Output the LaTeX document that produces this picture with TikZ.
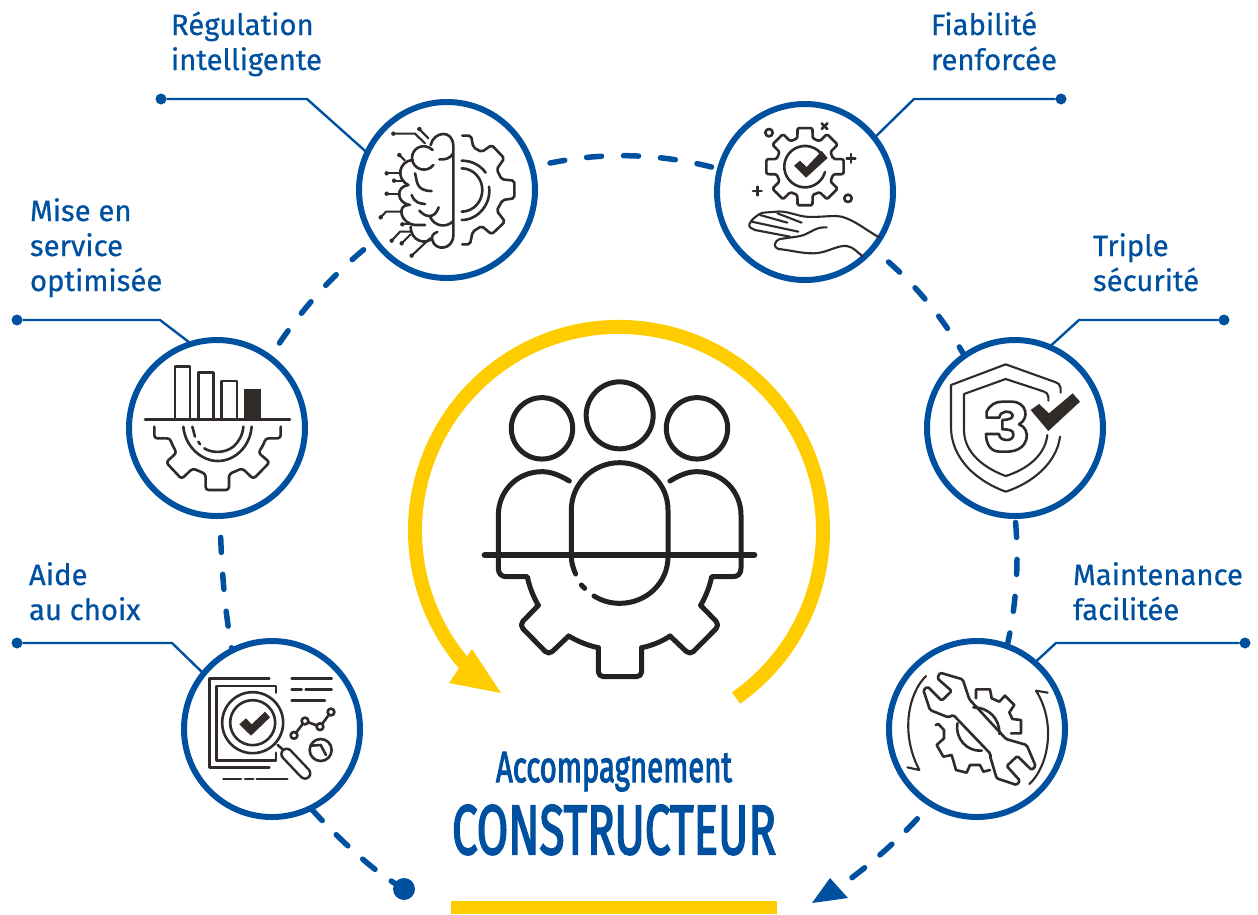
\documentclass[tikz,border=0pt]{standalone}
\usepackage{fontspec}
\setmainfont{Fira Sans}
\newfontfamily\labelfont[FakeBold=0.6]{Fira Sans}
\newfontfamily\titlefont[FakeBold=3]{Fira Sans}
\definecolor{brandblue}{HTML}{0050A0}
\definecolor{brandyellow}{HTML}{FFCC00}
\definecolor{icondark}{HTML}{302A28}
\definecolor{hubdark}{HTML}{222222}
\tikzset{
  ring/.style={circle,draw=brandblue,fill=white,line width=6pt,minimum size=176pt,inner sep=0pt,outer sep=0pt},
  pin/.style={circle,fill=brandblue,minimum size=11pt,inner sep=0pt,outer sep=0pt},
  leader/.style={draw=brandblue,line width=2.4pt,line join=miter},
  orbit/.style={draw=brandblue,line width=5.5pt,line cap=round,dash pattern=on 15pt off 22pt},
  label/.style={text=brandblue,font=\labelfont\fontsize{29.3}{35}\selectfont,align=left,inner sep=0pt,outer sep=0pt},
  icon/.style={draw=icondark,line width=2.6pt,line cap=round,line join=round},
  iconthin/.style={draw=icondark,line width=2.1pt,line cap=round,line join=round},
  hub/.style={draw=hubdark,line width=5pt,line cap=round,line join=round},
  title/.style={text=brandblue,inner sep=0pt,outer sep=0pt,font=\titlefont},
  zoomed/.style={x=0.33333pt,y=-0.33333pt},
}
\begin{document}
\begin{tikzpicture}[x=1pt,y=-1pt]
\useasboundingbox (0,0) rectangle (1258,914);
% rings
\node[ring] (brain) at (447,190) {};
\node[ring] (fiab) at (805,192) {};
\node[ring] (chart) at (217,428) {};
\node[ring] (shield) at (1015,428) {};
\node[ring] (aide) at (272,729) {};
\node[ring] (maint) at (977,729) {};
% leader pins
\node[pin] (pinreg) at (161,99) {};
\node[pin] (pinfia) at (1061,99) {};
\node[pin] (pinmis) at (17,320) {};
\node[pin] (pintri) at (1224,320) {};
\node[pin] (pinaid) at (17,643) {};
\node[pin] (pinmai) at (1245,643) {};
\coordinate (kreg) at (307,99);
\coordinate (kfia) at (914,99);
\coordinate (kmis) at (160,320);
\coordinate (ktri) at (1079,320);
\coordinate (kaid) at (172,643);
\coordinate (kmai) at (1056,643);
\draw[leader] (pinreg) -- (kreg) -- (brain.155);
\draw[leader] (pinfia) -- (kfia) -- (fiab.38);
\draw[leader] (pinmis) -- (kmis) -- (chart.107);
\draw[leader] (pintri) -- (ktri) -- (shield.67);
\draw[leader] (pinaid) -- (kaid) -- (aide.141);
\draw[leader] (pinmai) -- (kmai) -- (maint.49);
% orbit
\node[pin,minimum size=22pt] (startdot) at (404,889) {};
\coordinate (arrowbase) at (838,888);
\draw[orbit,dash phase=18.5pt] (brain.15) .. controls (595,151) and (657,152) .. (fiab.165);
\draw[orbit,dash phase=16pt] (fiab.-40) .. controls (910,278) and (941,314) .. (shield.125);
\draw[orbit,dash phase=19.5pt] (chart.53) .. controls (298,312.6) and (333,273.6) .. (brain.215);
\draw[orbit,dash phase=15.5pt] (chart.-88) .. controls (221,561) and (224,606) .. (aide.117);
\draw[orbit,dash phase=30.5pt] (shield.-90) .. controls (1019.3,559.3) and (1016.7,602.7) .. (maint.70);
\draw[orbit,dash pattern=on 16pt off 20pt,dash phase=35pt] (aide.-64) .. controls (338,838) and (370,868) .. (startdot);
\draw[orbit,dash pattern=on 16pt off 20pt,dash phase=16pt] (maint.-122) .. controls (905,835) and (870,865) .. (arrowbase);
\fill[brandblue] (812,903) -- (830,878) -- (848,898) -- cycle;
% yellow loop
\draw[draw=brandyellow,line width=14pt] (736,698) arc[start angle=-55,end angle=221,radius=204pt];
\fill[brandyellow] (449,683) -- (472,649) -- (501,693) -- cycle;
\fill[brandyellow] (451,901) rectangle (777,914);
% labels
\node[label,anchor=base west] (lreg) at (171,70) {Régulation\\intelligente};
\node[label,anchor=base west] (lfia) at (931,70) {Fiabilité\\renforcée};
\node[label,anchor=base west] (lmis) at (30,291) {Mise en\\service\\optimisée};
\node[label,anchor=base west] (ltri) at (1093,291) {Triple\\sécurité};
\node[label,anchor=base west] (lmai) at (1073,620) {Maintenance\\facilitée};
\node[label,anchor=base west] (laid) at (29,620) {Aide\\au choix};
\node[title,anchor=base] (t1) at (614,782) {\resizebox{236pt}{30pt}{\fontsize{40}{40}\selectfont Accompagnement}};
\node[title,anchor=base] (t2) at (614,854) {\resizebox{324pt}{49pt}{\fontsize{50}{50}\selectfont CONSTRUCTEUR}};
% hub icon
\begin{scope}[shift={(470,370)},zoomed]
\draw[hub] (216,175) circle[radius=30.7pt];
\draw[hub] (449,136) circle[radius=33.5pt];
\draw[hub] (681,175) circle[radius=30.7pt];
\draw[hub] (298,333) .. controls (265,313) and (240,305) .. (216,305) .. controls (140,305) and (85,365) .. (85,435) -- (85,595) .. controls (85,612) and (95,620) .. (110,620) -- (172,620) .. controls (178,650) and (190,680) .. (205,706);
\draw[hub,rounded corners=5pt] (205,706) -- (148,765) -- (236,855) -- (296,798);
\draw[hub] (296,798) .. controls (325,815) and (355,827) .. (385,833);
\draw[hub,rounded corners=5pt] (385,833) -- (385,920) -- (515,920) -- (515,833);
\draw[hub] (515,833) .. controls (545,827) and (575,815) .. (600,798);
\draw[hub,rounded corners=5pt] (600,798) -- (660,855) -- (749,765) -- (692,706);
\draw[hub] (692,706) .. controls (707,680) and (719,650) .. (725,620) -- (788,620) .. controls (803,620) and (813,612) .. (813,595) -- (813,435) .. controls (813,365) and (758,305) .. (681,305) .. controls (657,305) and (632,313) .. (600,333);
\draw[hub] (317,612) .. controls (309,595) and (304,575) .. (304,560) -- (304,420) .. controls (304,340) and (370,278) .. (449,278) .. controls (528,278) and (594,340) .. (594,420) -- (594,560) .. controls (594,640) and (528,700) .. (449,700) .. controls (420,700) and (395,692) .. (372,678);
\draw[hub] (334,645) -- (344,655);
\draw[hub,line width=6pt] (44,555) -- (853,555);
\end{scope}
% brain icon
\begin{scope}[shift={(340,90)},zoomed]
\draw[icon] (272,165) .. controls (280,125) and (340,115) .. (340,170) -- (340,435) .. controls (340,480) and (285,485) .. (277,450) .. controls (273,438) and (280,430) .. (292,426);
\draw[icon] (278,180) .. controls (250,155) and (215,175) .. (216,205) .. controls (218,240) and (262,250) .. (280,225);
\draw[icon] (298,208) .. controls (315,210) and (330,205) .. (338,192);
\draw[icon] (218,210) .. controls (178,212) and (165,265) .. (205,285);
\draw[icon] (225,250) .. controls (232,270) and (225,303) .. (275,303);
\draw[icon] (205,285) .. controls (165,290) and (170,340) .. (210,345);
\draw[icon] (215,315) .. controls (225,340) and (240,340) .. (255,342);
\draw[icon] (205,345) .. controls (170,345) and (180,400) .. (225,405) -- (255,405);
\draw[icon] (238,362) .. controls (260,385) and (285,385) .. (296,352);
\draw[icon] (270,380) .. controls (285,412) and (320,412) .. (338,395);
\draw[icon] (212,410) .. controls (212,455) and (260,465) .. (275,445);
\draw[iconthin] (160,131) -- (225,131) -- (255,160);
\draw[iconthin] (238,117) -- (265,145);
\draw[iconthin] (178,195) -- (195,212);
\draw[iconthin] (140,250) -- (183,250);
\draw[iconthin] (162,272) -- (190,272);
\draw[iconthin] (140,311) -- (180,311);
\draw[iconthin] (122,382) -- (138,365) -- (185,365);
\draw[iconthin] (187,403) -- (218,403);
\draw[iconthin] (155,452) -- (180,425) -- (215,425);
\draw[iconthin] (185,460) -- (212,433);
\draw[iconthin] (215,497) -- (270,445);
\foreach \px/\py in {160/131,238/117,178/195,140/250,162/272,140/311,122/382,187/403,155/452,185/460,215/497}
  \fill[icondark] (\px,\py) circle[radius=2.2pt];
\draw[icon,rounded corners=2pt] (367,137) -- (393,137) -- (400,172) -- (425,186) -- (455,165) -- (493,205) -- (470,238) -- (485,268) -- (523,272) -- (523,325) -- (488,330) -- (470,362) -- (495,395) -- (455,433) -- (425,408) -- (398,425) -- (390,463) -- (367,463);
\draw[icon] (365,212) .. controls (395,212) and (420,225) .. (437,248);
\draw[icon] (447,290) .. controls (455,340) and (415,390) .. (365,390);
\draw[icon] (365,235) .. controls (400,235) and (427,265) .. (427,300) .. controls (427,335) and (400,365) .. (365,365);
\end{scope}
% reliability icon
\begin{scope}[shift={(700,90)},zoomed]
\draw[icon,rounded corners=1.5pt] ([shift={(315,230)}]-15:88) \foreach \i [evaluate=\i as \a using \i*45] in {0,...,7} { -- ([shift={(315,230)}]\a-15:88) -- ([shift={(315,230)}]\a-11:118) -- ([shift={(315,230)}]\a+11:118) -- ([shift={(315,230)}]\a+15:88) } -- cycle;
\draw[icon] (362.5,190) arc[start angle=40,end angle=345,radius=20.7pt];
\fill[icondark] (282,227) -- (300,212) -- (320,231) -- (365,183) -- (383,204) -- (318,263) -- cycle;
\draw[icon] (207,128) circle[radius=3.7pt];
\draw[icon] (444,325) circle[radius=3.7pt];
\draw[icon] (365,100) -- (382,117);
\draw[icon] (382,100) -- (365,117);
\draw[icon] (440,205) -- (466,205);
\draw[icon] (453,192) -- (453,218);
\draw[icon] (159,303) -- (185,303);
\draw[icon] (172,290) -- (172,316);
\draw[iconthin] (537,442) .. controls (490,415) and (450,380) .. (410,378) .. controls (370,378) and (330,385) .. (300,377) .. controls (280,372) and (250,362) .. (230,365) -- (190,368) .. controls (170,372) and (150,395) .. (148,403) .. controls (145,412) and (155,415) .. (165,420) -- (270,440);
\draw[iconthin] (180,375) -- (262,398);
\draw[iconthin] (232,370) -- (305,398);
\draw[iconthin] (155,395) -- (295,425);
\draw[iconthin] (380,412) .. controls (340,410) and (330,435) .. (290,440) -- (240,447) .. controls (220,455) and (220,472) .. (235,477) .. controls (270,480) and (300,490) .. (340,490) .. controls (380,490) and (410,465) .. (440,468) .. controls (460,470) and (475,490) .. (487,498);
\end{scope}
% chart icon
\begin{scope}[shift={(115,330)},zoomed]
\draw[icon] (180,268) -- (180,110) -- (225,110) -- (225,268);
\draw[icon] (250,268) -- (250,127) -- (296,127) -- (296,268);
\draw[icon] (320,268) -- (320,153) -- (366,153) -- (366,268);
\fill[icondark] (388,178) rectangle (439,268);
\draw[icon,line width=2.8pt] (90,269) -- (525,269);
\draw[icon,rounded corners=3pt] (118,290) -- (118,325) -- (165,325) -- (172,345) -- (185,368) -- (153,397) -- (200,447) -- (233,415) -- (272,432) -- (272,480) -- (342,480) -- (342,432) -- (382,415) -- (415,447) -- (464,397) -- (430,368) -- (445,345) -- (452,325) -- (497,325) -- (497,290);
\draw[icon] (205,290) .. controls (210,350) and (260,393) .. (308,393) .. controls (360,393) and (405,350) .. (410,290);
\draw[icon] (232,290) -- (240,320);
\draw[icon] (250,335) -- (255,343);
\draw[icon] (268,355) .. controls (290,370) and (330,370) .. (355,350) .. controls (372,335) and (383,315) .. (385,290);
\end{scope}
% shield icon
\begin{scope}[shift={(915,330)},zoomed]
\draw[iconthin] (437,188) -- (437,175) .. controls (437,165) and (430,160) .. (420,156) -- (272,103) -- (108,165) -- (108,290) .. controls (108,390) and (190,455) .. (272,485) .. controls (350,460) and (425,400) .. (435,320);
\draw[iconthin] (400,212) -- (400,200) .. controls (400,190) and (392,187) .. (385,184) -- (272,147) -- (147,192) -- (147,300) .. controls (147,370) and (210,415) .. (272,438) .. controls (330,420) and (390,380) .. (397,315);
\draw[icon] (215,263) -- (215,245) .. controls (225,225) and (240,215) .. (262,215) -- (290,215) .. controls (335,215) and (345,265) .. (312,283) .. controls (350,295) and (345,365) .. (275,365) -- (255,365) .. controls (225,365) and (213,340) .. (213,312) -- (252,312) .. controls (252,335) and (298,337) .. (295,312) .. controls (295,300) and (280,298) .. (262,298) -- (262,270) .. controls (280,270) and (295,265) .. (293,255) .. controls (290,240) and (255,240) .. (253,263) -- cycle;
\fill[icondark] (347,240) -- (372,222) -- (402,250) -- (473,190) -- (495,215) -- (400,303) -- cycle;
\end{scope}
% selection icon
\begin{scope}[shift={(170,630)},zoomed]
\draw[icon] (298,145) -- (118,145) -- (118,413) -- (298,413);
\draw[icon] (318,188) -- (318,168) -- (140,168) -- (140,392) -- (318,392) -- (318,368);
\draw[icon,fill=white] (248,278) circle[radius=30.5pt];
\draw[icon] (248,278) circle[radius=22.5pt];
\fill[icondark] (208,283) -- (228,265) -- (245,283) -- (285,245) -- (300,262) -- (243,317) -- cycle;
\draw[icon] (323,345) -- (338,358);
\draw[draw=icondark,line width=13pt,line cap=round] (350,372) -- (405,430);
\draw[draw=white,line width=8pt,line cap=round] (350,372) -- (405,430);
\draw[icon] (365,145) -- (485,145);
\draw[icon] (365,179) -- (395,179);
\draw[icon] (407,179) -- (485,179);
\draw[icon] (365,212) -- (465,212);
\draw[icon] (160,447) -- (213,447);
\draw[icon] (225,447) -- (250,447);
\draw[icon] (260,447) -- (352,447);
\draw[icon] (372,316) -- (405,273) -- (450,290) -- (483,246);
\foreach \px/\py in {372/316,405/273,450/290,483/246}
  \draw[icon,fill=white] (\px,\py) circle[radius=3.4pt];
\draw[icon] (452,360) circle[radius=11pt];
\draw[icon] (422,347) -- (452,345) -- (468,375);
\end{scope}
% maintenance icon
\begin{scope}[shift={(880,630)},zoomed]
\draw[iconthin] (138,138) .. controls (85,190) and (60,310) .. (118,420) -- (82,412);
\draw[iconthin] (448,462) .. controls (505,410) and (530,280) .. (468,182) -- (503,188);
\draw[icon] (288,205) -- (288,178) -- (330,178) -- (335,205) -- (358,215) -- (375,197) -- (403,225) -- (388,247) -- (397,267) -- (423,270) -- (423,310) -- (393,310);
\draw[icon] (167,285) -- (175,282) -- (192,300) -- (192,325) -- (170,345) -- (190,380) -- (215,375) -- (228,420) -- (260,428) -- (270,405) -- (300,405) -- (310,425) -- (330,420);
\draw[icon] (280,232) .. controls (325,232) and (360,265) .. (358,312);
\draw[icon] (232,280) .. controls (225,325) and (260,365) .. (305,362);
\draw[icon,rounded corners=1.5pt] (172,145) -- (180,128) -- (248,148) -- (268,208) -- (378,327) -- (440,345) -- (467,408) -- (455,420) -- (412,378) -- (380,408) -- (420,452) -- (410,465) -- (350,445) -- (330,378) -- (332,372) -- (220,255) -- (205,262) -- (150,240) -- (130,180) -- (143,170) -- (185,212) -- (215,183) -- cycle;
\end{scope}
\end{tikzpicture}
\end{document}
